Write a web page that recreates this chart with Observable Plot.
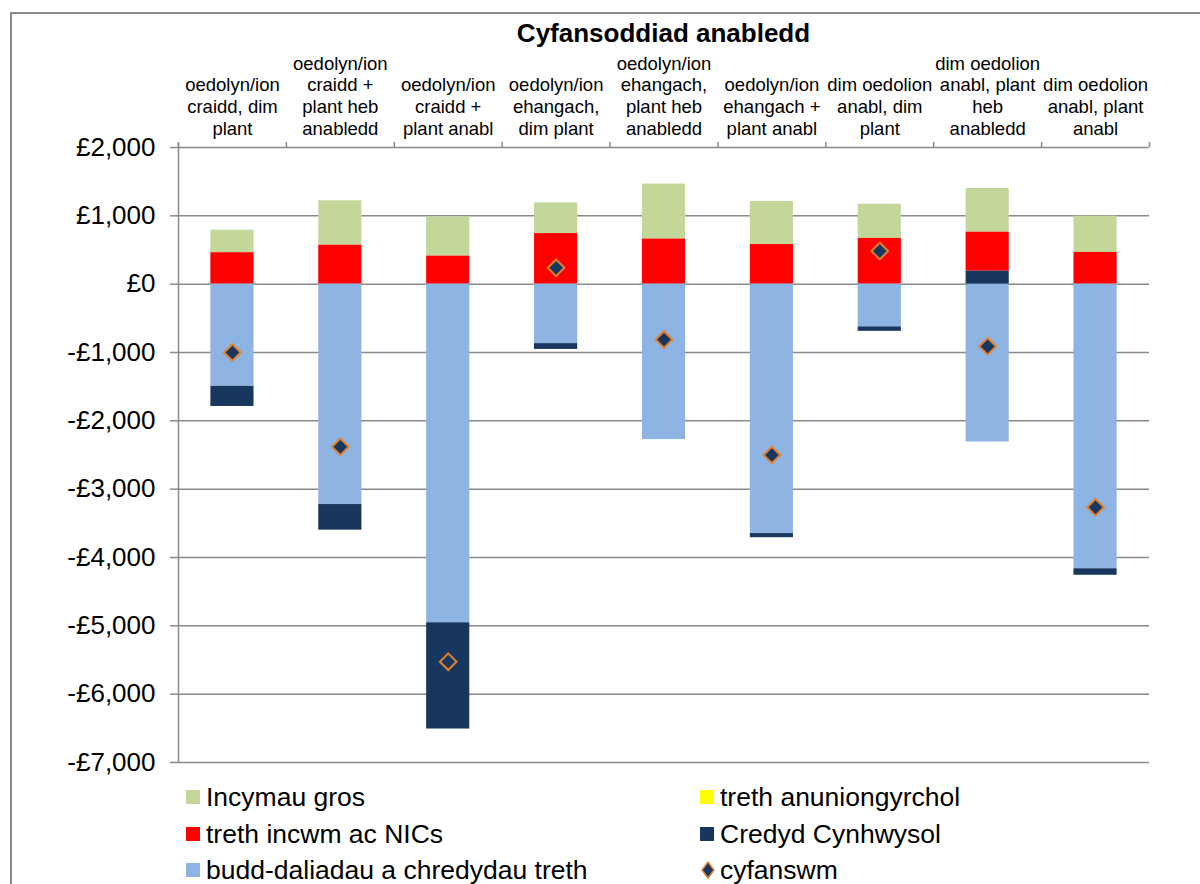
<!DOCTYPE html>
<html>
<head>
<meta charset="utf-8">
<script src="https://cdn.jsdelivr.net/npm/d3@7"></script>
<script src="https://cdn.jsdelivr.net/npm/@observablehq/plot@0.6"></script>
<style>
  body { margin: 0; background: #fff; font-family: "Liberation Sans", Arial, sans-serif; }
  #wrap { position: relative; width: 1200px; height: 884px; overflow: hidden; background: #fff; }
  #border { position: absolute; left: 10px; top: 12px; width: 1300px; height: 1000px;
            border-left: 2px solid #8a8a8a; border-top: 2px solid #8a8a8a; }
  #chart { position: absolute; left: 0; top: 0; }
  #title { position: absolute; left: 178px; width: 971px; top: 18px; text-align: center;
           font-weight: bold; font-size: 26px; line-height: 30px; color: #000; }
  .leg { position: absolute; display: flex; align-items: center; font-size: 26.5px; color: #000;
         white-space: nowrap; line-height: 30px; }
  .sw { display: inline-block; width: 14px; height: 14px; margin-right: 6px; }
</style>
</head>
<body>
<div id="wrap">
  <div id="border"></div>
  <div id="chart"></div>
  <div id="title">Cyfansoddiad anabledd</div>
  <div id="legend"></div>
</div>
<script>
// ---- data ----
const categories = [
  "oedolyn/ion\ncraidd, dim\nplant",
  "oedolyn/ion\ncraidd +\nplant heb\nanabledd",
  "oedolyn/ion\ncraidd +\nplant anabl",
  "oedolyn/ion\nehangach,\ndim plant",
  "oedolyn/ion\nehangach,\nplant heb\nanabledd",
  "oedolyn/ion\nehangach +\nplant anabl",
  "dim oedolion\nanabl, dim\nplant",
  "dim oedolion\nanabl, plant\nheb\nanabledd",
  "dim oedolion\nanabl, plant\nanabl"
];
const incymauGros      = [330, 650, 575, 450, 805, 630, 500, 640, 530];
const trethIncwm       = [460, 570, 410, 740, 660, 580, 670, 570, 465];
const buddDaliadau     = [-1495, -3225, -4955, -870, -2275, -3650, -625, -2310, -4165];
const trethAnuniongyrchol = [0, 0, 0, 0, 0, 0, 0, 0, 0];
const credydCynhwysol  = [-295, -375, -1555, -85, 0, -60, -65, 190, -95];
const cyfanswm         = [-1000, -2380, -5525, 240, -810, -2500, 485, -910, -3265];
const yTicks = [2000, 1000, 0, -1000, -2000, -3000, -4000, -5000, -6000, -7000];

const seriesColors = {
  "Incymau gros": "#C4D79B",
  "treth anuniongyrchol": "#FFFF00",
  "treth incwm ac NICs": "#FF0000",
  "Credyd Cynhwysol": "#17375E",
  "budd-daliadau a chredydau treth": "#8EB4E3"
};
const diamondFill = "#17375E", diamondStroke = "#E3812F";
const gray = "#8a8a8a";

// ---- table ----
const rows = [];
const add = (name, vals) => vals.forEach((v, i) => {
  const key = name === "Credyd Cynhwysol" ? (v >= 0 ? "Credyd+" : "Credyd-") : name;
  rows.push({cat: categories[i], series: name, key, value: v, color: seriesColors[name]});
});
add("Incymau gros", incymauGros);
add("treth incwm ac NICs", trethIncwm);
add("budd-daliadau a chredydau treth", buddDaliadau);
add("treth anuniongyrchol", trethAnuniongyrchol);
add("Credyd Cynhwysol", credydCynhwysol);
const stackOrder = ["Credyd+", "treth incwm ac NICs", "Incymau gros", "treth anuniongyrchol",
                    "budd-daliadau a chredydau treth", "Credyd-"];
const totals = cyfanswm.map((v, i) => ({cat: categories[i], value: v}));

// ---- chart ----
const W = 1200, H = 784, mL = 178, mR = 51, mT = 147, mB = 22;
const step = (W - mL - mR) / categories.length;
const fmt = d => (d < 0 ? "-" : "") + "£" + d3.format(",")(Math.abs(d));

const chart = Plot.plot({
  width: W, height: H,
  marginLeft: mL, marginRight: mR, marginTop: mT, marginBottom: mB,
  style: {fontFamily: "'Liberation Sans', Arial, sans-serif", color: "#000", background: "transparent"},
  x: {type: "band", domain: categories, paddingInner: 0.6, paddingOuter: 0.3, round: false, axis: null},
  y: {domain: [-7000, 2000], axis: null},
  color: {type: "identity"},
  marks: [
    Plot.gridY(yTicks, {stroke: gray, strokeOpacity: 1, strokeWidth: 1.5}),
    Plot.ruleX(categories, {x: d => d, dx: -step / 2, y1: 2000, y2: 2000, insetTop: -5, stroke: gray, strokeWidth: 1.5}),
    Plot.ruleX([categories[categories.length - 1]], {x: d => d, dx: step / 2, y1: 2000, y2: 2000, insetTop: -5, stroke: gray, strokeWidth: 1.5}),
    Plot.barY(rows, Plot.stackY({x: "cat", y: "value", z: "key", fill: "color", order: stackOrder})),
    Plot.dot(totals, {x: "cat", y: "value", symbol: "diamond2", r: 7.5, fill: diamondFill, stroke: diamondStroke, strokeWidth: 2}),
    Plot.ruleX([categories[0]], {x: d => d, dx: -step / 2, y1: 2000, y2: -7000, insetTop: -5, stroke: gray, strokeWidth: 1.5}),
    Plot.axisY(yTicks, {tickFormat: fmt, tickSize: 8, tickPadding: 15, fontSize: 26, stroke: gray, strokeWidth: 1.5, label: null}),
    Plot.text(categories, {x: d => d, text: d => d, frameAnchor: "top", lineAnchor: "bottom", dy: -13, lineHeight: 1.17, fontSize: 18.5})
  ]
});
document.getElementById("chart").appendChild(chart);

// ---- legend ----
const legendOrder = ["Incymau gros", "treth incwm ac NICs", "budd-daliadau a chredydau treth",
                     "treth anuniongyrchol", "Credyd Cynhwysol", "cyfanswm"];
const colX = [186, 700], rowY = [797, 834, 870];
const leg = document.getElementById("legend");
legendOrder.forEach((name, i) => {
  const col = Math.floor(i / 3), row = i % 3;
  const el = document.createElement("div");
  el.className = "leg";
  el.style.left = colX[col] + "px";
  el.style.top = (rowY[row] - 15) + "px";
  if (name === "cyfanswm") {
    el.innerHTML = `<svg width="16" height="20" style="margin-right:4px"><path d="M8,2 L14,10 L8,18 L2,10 Z" fill="${diamondFill}" stroke="${diamondStroke}" stroke-width="1.5"/></svg>`;
  } else {
    el.innerHTML = `<span class="sw" style="background:${seriesColors[name]}"></span>`;
  }
  el.appendChild(document.createTextNode(name));
  leg.appendChild(el);
});
</script>
</body>
</html>
